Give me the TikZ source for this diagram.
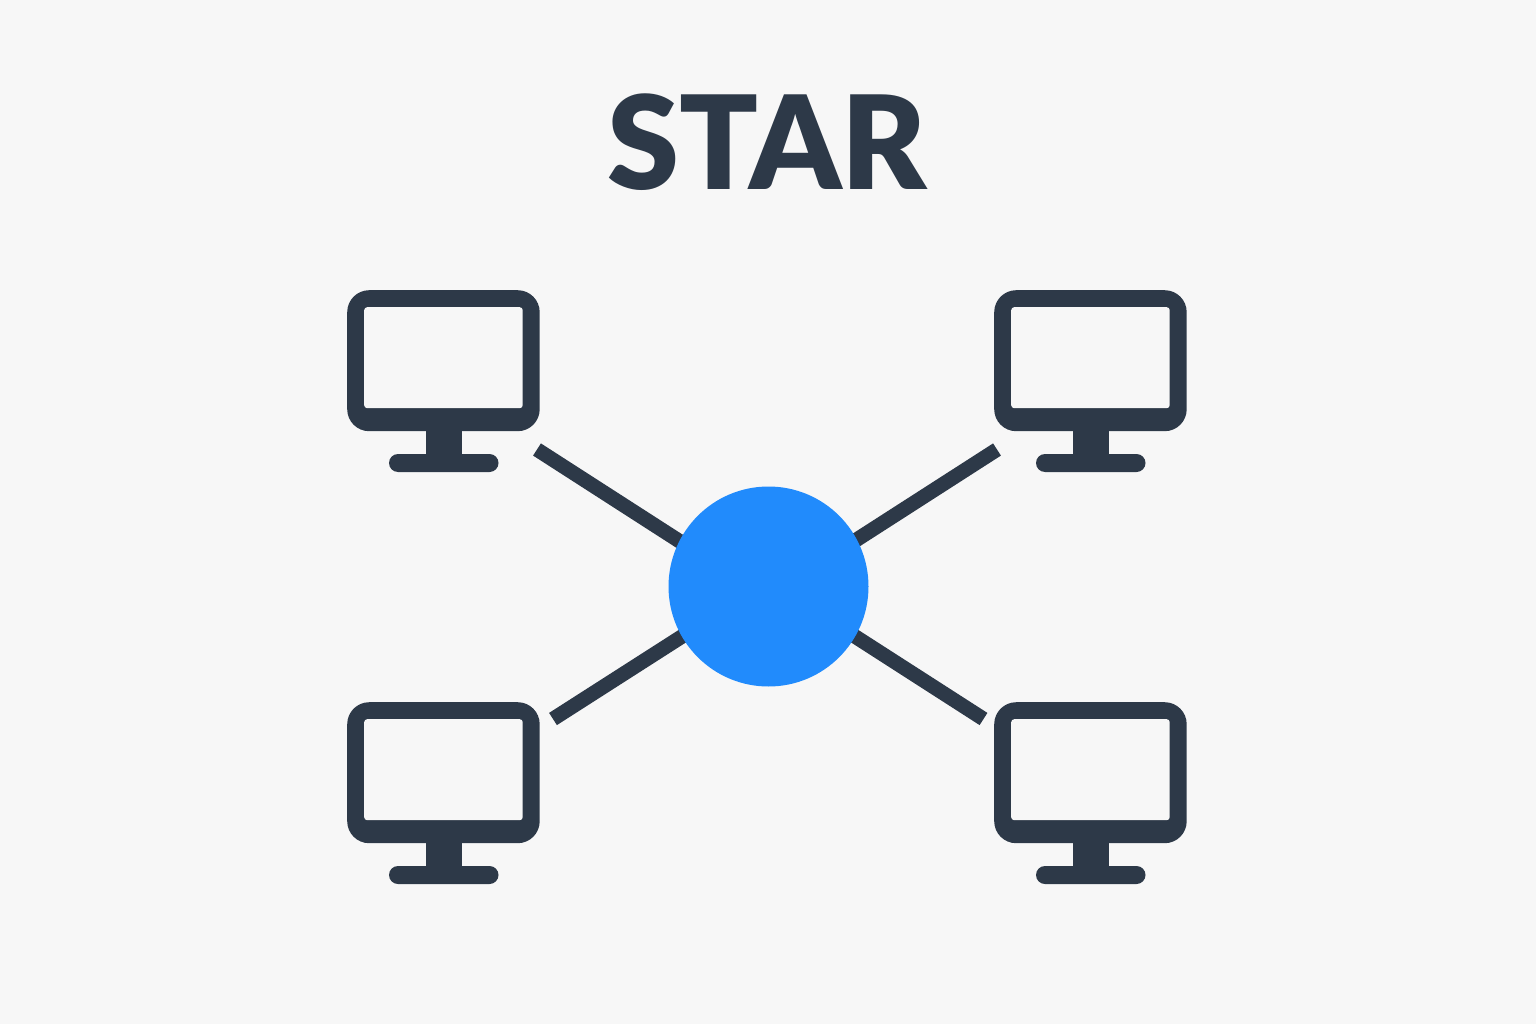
\documentclass[tikz,border=0pt]{standalone}
\usepackage{fontspec}
\newfontfamily\titlefont{Lato Black}
\definecolor{bgc}{HTML}{F7F7F7}
\definecolor{ink}{HTML}{2D3948}
\definecolor{hub}{HTML}{218BFC}
\pgfdeclarelayer{paper}
\pgfdeclarelayer{linklayer}
\pgfsetlayers{paper,linklayer,main}
\newcommand{\monitor}[3]{%
  \begin{scope}[shift={(#2,-#3)}]
    \fill[ink] (79,-130) rectangle (115,-170);
    \fill[ink,rounded corners=9pt] (42,-164) rectangle (151.5,-182);
    \node[screenouter,anchor=north west] (#1) at (0,0) {};
    \node[screeninner,anchor=north west] (#1in) at (17,-17) {};
  \end{scope}}
\tikzset{
  x=1pt,y=1pt,
  screenouter/.style={fill=ink,rounded corners=22pt,minimum width=192.5pt,minimum height=141pt,inner sep=0pt},
  screeninner/.style={fill=bgc,rounded corners=3pt,minimum width=158.5pt,minimum height=101pt,inner sep=0pt},
  hubnode/.style={circle,fill=hub,minimum size=200pt,inner sep=0pt},
  linkline/.style={draw=ink,line width=14.5pt,shorten >=-8pt},
}
\begin{document}
\begin{tikzpicture}
\useasboundingbox (0,0) rectangle (1536,-1024);
\begin{pgfonlayer}{paper}
\fill[bgc] (0,0) rectangle (1536,-1024);
\end{pgfonlayer}
\node[font=\fontsize{130}{130}\selectfont\titlefont,text=ink,inner sep=0pt] (title) at (767,-142) {STAR};
\monitor{tl}{347}{290}
\monitor{tr}{994}{290}
\monitor{bl}{347}{702}
\monitor{br}{994}{702}
\coordinate (ctl) at (537,-449.5);
\coordinate (ctr) at (997,-449.5);
\coordinate (cbl) at (553,-719);
\coordinate (cbr) at (983.5,-719);
\node[hubnode] (hub) at (768.5,-586.5) {};
\begin{pgfonlayer}{linklayer}
\draw[linkline] (ctl) -- (hub.153);
\draw[linkline] (ctr) -- (hub.28);
\draw[linkline] (cbl) -- (hub.210);
\draw[linkline] (cbr) -- (hub.330);
\end{pgfonlayer}
\end{tikzpicture}
\end{document}
